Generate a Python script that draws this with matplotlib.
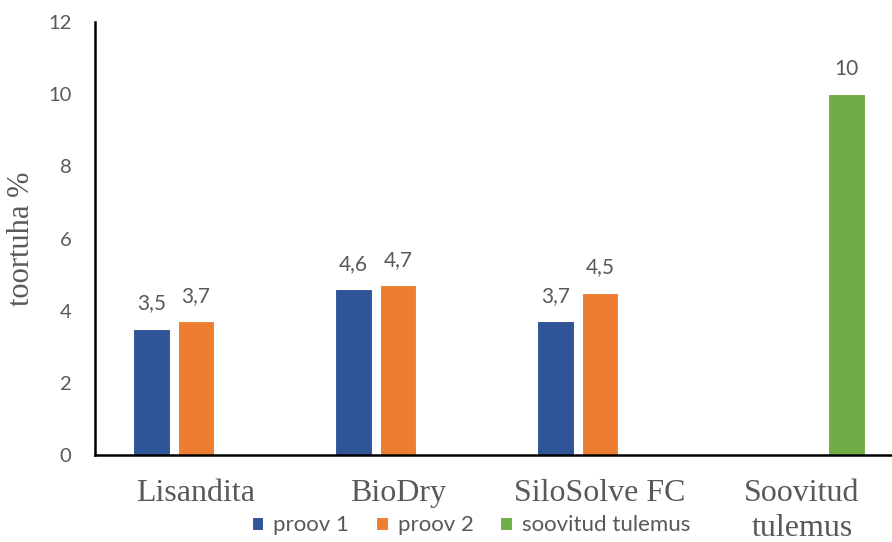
import numpy as np
import matplotlib
matplotlib.use("Agg")
import matplotlib.pyplot as plt

# Data
categories = ["Lisandita", "BioDry", "SiloSolve FC", "Soovitud\ntulemus"]
proov1 = [3.5, 4.6, 3.7, np.nan]
proov2 = [3.7, 4.7, 4.5, np.nan]
soovitud = [np.nan, np.nan, np.nan, 10]
series_names = ["proov 1", "proov 2", "soovitud tulemus"]
yticks = [0, 2, 4, 6, 8, 10, 12]

colors = ["#2F5597", "#ED7D31", "#70AD47"]
grey = "#595959"
sans = ["Lato", "DejaVu Sans"]
serif = ["Liberation Serif", "DejaVu Serif"]

fig = plt.figure(figsize=(8.92, 5.42), dpi=100)
ax = fig.add_axes([95 / 892, 87 / 542, 1 - 95 / 892, 433 / 542])

x = np.arange(len(categories))
width = 0.18
offset = 0.22


def fmt(v):
    if np.isnan(v):
        return ""
    return f"{v:g}".replace(".", ",")


for i, (vals, name) in enumerate(zip([proov1, proov2, soovitud], series_names)):
    vals = np.array(vals, dtype=float)
    bars = ax.bar(x + (i - 1) * offset, np.nan_to_num(vals, nan=0.0), width,
                  color=colors[i], edgecolor="white", linewidth=0.8, label=name)
    ax.bar_label(bars, labels=[fmt(v) for v in vals], padding=11,
                 fontsize=15, color=grey, family=sans)

ax.set_xlim(-0.5, 3.445)
ax.set_ylim(0, 12)
ax.set_yticks(yticks)
ax.set_yticklabels([str(t) for t in yticks], fontsize=14.5, color=grey, family=sans)
ax.set_xticks(x)
ax.set_xticklabels(categories, fontsize=23, color=grey, family=serif,
                   linespacing=1.3)
ax.tick_params(axis="y", length=0, pad=17)
ax.tick_params(axis="x", length=0, pad=17)

for side in ["top", "right"]:
    ax.spines[side].set_visible(False)
ax.spines["left"].set_linewidth(1.8)
ax.spines["bottom"].set_linewidth(1.8)
ax.spines["left"].set_color("black")
ax.spines["bottom"].set_color("black")

ax.set_ylabel("toortuha %", fontsize=22, color=grey, family=serif)
ax.yaxis.set_label_coords(-0.074, 0.5)

handles, labels = ax.get_legend_handles_labels()
leg = fig.legend(handles, labels, loc="center", bbox_to_anchor=(471 / 892, 1 - 525 / 542),
                 ncol=3, frameon=False, handlelength=0.52, handleheight=0.52,
                 handletextpad=0.45, columnspacing=1.2,
                 prop={"family": sans, "size": 16})
for t in leg.get_texts():
    t.set_color(grey)

fig.savefig("out.png", dpi=100)
